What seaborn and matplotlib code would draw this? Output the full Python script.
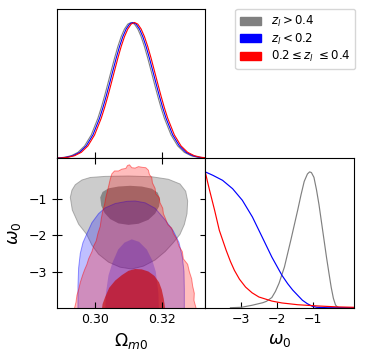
import numpy as np
import matplotlib
matplotlib.use("Agg")
import matplotlib.pyplot as plt
import seaborn as sns
from matplotlib.colors import to_rgba
from matplotlib.patches import Patch

# ---- 1D marginal of Omega_m0 (normalised to peak = 1) ----
om_x_grey = [0.2868, 0.2888, 0.2908, 0.2928, 0.2948, 0.2968, 0.2988, 0.3008, 0.3018, 0.3028,
             0.3038, 0.3048, 0.3058, 0.3068, 0.3078, 0.3088, 0.3098, 0.3108, 0.3118, 0.3128,
             0.3138, 0.3148, 0.3158, 0.3168, 0.3178, 0.3188, 0.3198, 0.3208, 0.3228, 0.3248,
             0.3268, 0.3288, 0.3308, 0.3328, 0.3348]
om_x_blue = [0.2873, 0.2893, 0.2913, 0.2933, 0.2953, 0.2973, 0.2993, 0.3013, 0.3023, 0.3033,
             0.3043, 0.3053, 0.3063, 0.3073, 0.3083, 0.3093, 0.3103, 0.3113, 0.3123, 0.3133,
             0.3143, 0.3153, 0.3163, 0.3173, 0.3183, 0.3193, 0.3203, 0.3213, 0.3233, 0.3253,
             0.3273, 0.3293, 0.3313, 0.3333, 0.3353]
om_x_red = [0.2878, 0.2898, 0.2918, 0.2938, 0.2958, 0.2978, 0.2998, 0.3018, 0.3028, 0.3038,
            0.3048, 0.3058, 0.3068, 0.3078, 0.3088, 0.3098, 0.3108, 0.3118, 0.3128, 0.3138,
            0.3148, 0.3158, 0.3168, 0.3178, 0.3188, 0.3198, 0.3208, 0.3218, 0.3238, 0.3258,
            0.3278, 0.3298, 0.3318, 0.3338, 0.3358]
om_dens = [0.0009, 0.0027, 0.0076, 0.0192, 0.0439, 0.0914, 0.172, 0.295, 0.372, 0.458,
           0.550, 0.644, 0.737, 0.823, 0.896, 0.952, 0.988, 1.0, 0.988, 0.952,
           0.896, 0.823, 0.737, 0.644, 0.550, 0.458, 0.372, 0.295, 0.172, 0.0914,
           0.0439, 0.0192, 0.0076, 0.0027, 0.0009]

# ---- 1D marginal of omega_0 ----
w_grey = [-3.3, -3.0, -2.7, -2.4, -2.3, -2.15, -2.05, -1.95, -1.80, -1.62, -1.43, -1.34,
          -1.25, -1.16, -1.10, -1.05, -0.98, -0.91, -0.84, -0.77, -0.70, -0.63, -0.56,
          -0.50, -0.44, -0.38, -0.32, -0.25, 0.13]
p_grey = [0.0, 0.003, 0.018, 0.037, 0.047, 0.075, 0.12, 0.18, 0.30, 0.50, 0.72, 0.83,
          0.93, 0.985, 1.0, 0.995, 0.96, 0.87, 0.76, 0.63, 0.50, 0.37, 0.25,
          0.15, 0.07, 0.02, 0.004, 0.0, 0.0]
w_blue = [-4.0, -3.79, -3.52, -3.24, -2.97, -2.69, -2.42, -2.15, -1.87, -1.71, -1.57,
          -1.43, -1.30, -1.16, -1.02, -0.90, -0.6, 0.13]
p_blue = [1.0, 0.975, 0.938, 0.876, 0.791, 0.668, 0.521, 0.373, 0.239, 0.177, 0.13,
          0.091, 0.055, 0.029, 0.01, 0.003, 0.0, 0.0]
w_red = [-4.0, -3.94, -3.88, -3.74, -3.61, -3.42, -3.3, -3.19, -3.05, -2.88, -2.7,
         -2.51, -2.15, -1.87, -1.43, -0.88, -0.33, 0.13]
p_red = [1.0, 0.93, 0.864, 0.717, 0.570, 0.423, 0.34, 0.275, 0.21, 0.152, 0.11,
         0.079, 0.049, 0.035, 0.022, 0.013, 0.006, 0.003]

# ---- 2D contours (Omega_m0, omega_0), 68% / 95% ----
grey_outer = [(0.2940, -0.60), (0.2960, -0.47), (0.2985, -0.40), (0.3030, -0.37), (0.3100, -0.36),
              (0.3170, -0.38), (0.3220, -0.45), (0.3255, -0.58), (0.3272, -0.78), (0.3278, -1.05),
              (0.3276, -1.40), (0.3268, -1.70), (0.3255, -1.97), (0.3235, -2.20), (0.3210, -2.45),
              (0.3180, -2.68), (0.3145, -2.85), (0.3110, -2.93), (0.3075, -2.88), (0.3040, -2.74),
              (0.3010, -2.52), (0.2990, -2.27), (0.2974, -1.97), (0.2950, -1.69), (0.2931, -1.30),
              (0.2925, -0.95), (0.2930, -0.75)]
grey_inner = [(0.3015, -0.95), (0.3022, -0.80), (0.3040, -0.70), (0.3070, -0.65), (0.3105, -0.63),
              (0.3140, -0.65), (0.3170, -0.71), (0.3188, -0.82), (0.3195, -1.00), (0.3192, -1.20),
              (0.3180, -1.40), (0.3160, -1.57), (0.3130, -1.68), (0.3100, -1.71), (0.3070, -1.67),
              (0.3045, -1.55), (0.3028, -1.38), (0.3018, -1.18)]
blue_outer = [(0.2948, -4.2), (0.2948, -3.4), (0.2950, -2.9), (0.2955, -2.5), (0.2963, -2.2),
              (0.2974, -1.97), (0.2990, -1.65), (0.3010, -1.40), (0.3030, -1.24), (0.3060, -1.12),
              (0.3095, -1.06), (0.3120, -1.05), (0.3150, -1.10), (0.3180, -1.25), (0.3210, -1.57),
              (0.3235, -1.88), (0.3252, -2.2), (0.3262, -2.6), (0.3267, -3.0), (0.3268, -3.5),
              (0.3268, -4.2)]
blue_inner = [(0.3030, -4.2), (0.3032, -3.6), (0.3040, -3.1), (0.3052, -2.75), (0.3069, -2.39),
              (0.3088, -2.20), (0.3110, -2.11), (0.3132, -2.18), (0.3155, -2.39), (0.3172, -2.70),
              (0.3182, -3.0), (0.3190, -3.6), (0.3192, -4.2)]
red_outer = [(0.3045, -0.45), (0.3050, -0.30), (0.3058, -0.22), (0.3070, -0.22), (0.3080, -0.17),
             (0.3092, -0.15), (0.3097, -0.07), (0.3103, -0.05), (0.3110, -0.13), (0.3120, -0.14),
             (0.3130, -0.10), (0.3142, -0.12), (0.3152, -0.13), (0.3160, -0.20), (0.3163, -0.32),
             (0.3170, -0.40), (0.3172, -0.55), (0.3180, -0.70), (0.3182, -0.85), (0.3192, -0.95),
             (0.3195, -1.10), (0.3203, -1.25), (0.3205, -1.40), (0.3212, -1.55), (0.3218, -1.70),
             (0.3230, -1.80), (0.3235, -1.95), (0.3245, -2.10), (0.3252, -2.30), (0.3262, -2.45),
             (0.3265, -2.65), (0.3278, -2.80), (0.3283, -3.00), (0.3290, -3.20), (0.3293, -3.40),
             (0.3298, -3.60), (0.3297, -3.80), (0.3303, -4.00), (0.3303, -4.2),
             (0.2938, -4.2), (0.2938, -4.0), (0.2942, -3.85), (0.2945, -3.65), (0.2950, -3.50),
             (0.2955, -3.30), (0.2962, -3.10), (0.2968, -2.95), (0.2975, -2.80), (0.2980, -2.65),
             (0.2990, -2.45), (0.2995, -2.30), (0.3003, -2.15), (0.3008, -1.95), (0.3015, -1.75),
             (0.3018, -1.55), (0.3022, -1.35), (0.3028, -1.15), (0.3032, -0.95), (0.3036, -0.80),
             (0.3040, -0.65)]
red_inner = [(0.3018, -4.2), (0.3022, -3.9), (0.3030, -3.7), (0.3042, -3.45), (0.3060, -3.25),
             (0.3080, -3.10), (0.3100, -2.98), (0.3120, -2.93), (0.3140, -2.94), (0.3160, -3.00),
             (0.3178, -3.12), (0.3192, -3.30), (0.3200, -3.50), (0.3206, -3.75), (0.3210, -4.0),
             (0.3211, -4.2)]

labels = [r'$z_l > 0.4$', r'$z_l < 0.2$', r'$0.2 \leq z_l\ \leq 0.4$']
colors = ['#808080', 'blue', 'red']

om_lim = (0.2884, 0.3331)
w_lim = (-4.0, 0.13)

fig = plt.figure(figsize=(3.65, 3.63), dpi=100)
L, W, B, H = 0.1553, 0.4071, 0.1523, 0.4116
ax_top = fig.add_axes([L, B + H, W, H])
ax_2d = fig.add_axes([L, B, W, H])
ax_w = fig.add_axes([L + W, B, W, H])

# top marginal
for xs, c in zip([om_x_grey, om_x_blue, om_x_red], colors):
    sns.lineplot(x=xs, y=om_dens, color=c, linewidth=0.8, ax=ax_top)
ax_top.set_xlim(om_lim)
ax_top.set_ylim(0, 1.1)
ax_top.set_xticks([0.30, 0.32])
ax_top.tick_params(axis='x', direction='in', length=4, labelbottom=False)
ax_top.set_yticks([])

# omega marginal
for xs, ys, c in zip([w_grey, w_blue, w_red], [p_grey, p_blue, p_red], colors):
    sns.lineplot(x=xs, y=ys, color=c, linewidth=0.85, ax=ax_w)
ax_w.set_xlim(w_lim)
ax_w.set_ylim(0, 1.1)
ax_w.set_xticks([-3, -2, -1])
ax_w.set_yticks([])
ax_w.tick_params(axis='x', direction='in', length=4, labelsize=9)
ax_w.set_xlabel(r'$\omega_0$', fontsize=12.5)


def fill(ax, pts, c, a, ea=0.0):
    xs, ys = zip(*pts)
    ax.fill(xs, ys, facecolor=to_rgba(c, a), edgecolor=to_rgba(c, ea), linewidth=0.7)


fill(ax_2d, grey_outer, '#808080', 0.40, 0.6)
fill(ax_2d, grey_inner, '#505050', 0.55)
fill(ax_2d, blue_outer, 'blue', 0.25, 0.4)
fill(ax_2d, blue_inner, 'blue', 0.25)
fill(ax_2d, red_outer, 'red', 0.26, 0.45)
fill(ax_2d, red_inner, '#c80000', 0.65)
ax_2d.set_xlim(om_lim)
ax_2d.set_ylim(w_lim)
ax_2d.set_xticks([0.30, 0.32])
ax_2d.set_xticklabels(['0.30', '0.32'])
ax_2d.set_yticks([-1, -2, -3])
ax_2d.tick_params(axis='x', direction='in', length=4, top=True, labelsize=9)
ax_2d.tick_params(axis='y', direction='inout', length=7, right=True, labelsize=9)
ax_2d.set_xlabel(r'$\Omega_{m0}$', fontsize=12.5)
ax_2d.set_ylabel(r'$\omega_0$', fontsize=12.5)

handles = [Patch(facecolor=c, edgecolor=c) for c in colors]
fig.legend(handles, labels, loc='upper right', bbox_to_anchor=(0.973, 0.975),
           fontsize=8.5, handlelength=1.8, labelspacing=0.22, borderaxespad=0.0)

fig.savefig('out.png', dpi=100)
